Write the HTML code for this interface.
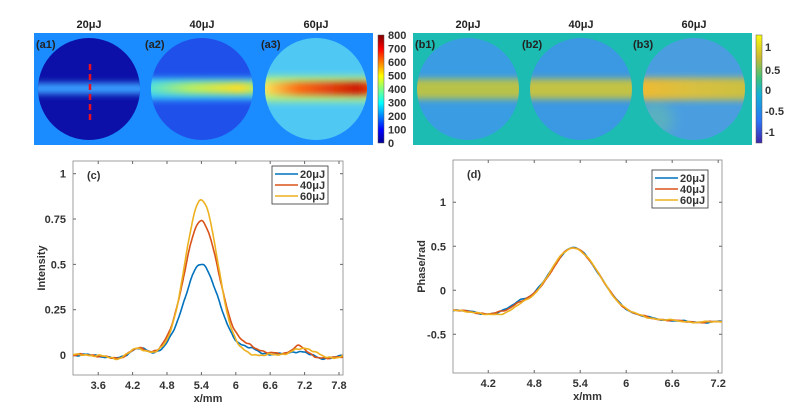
<!DOCTYPE html>
<html><head><meta charset="utf-8"><style>
html,body{margin:0;padding:0;background:#fff;}
svg{display:block;font-family:"Liberation Sans",sans-serif;}
.t{font-size:11px;font-weight:bold;fill:#222;}
.k{font-size:11px;font-weight:bold;fill:#333;}
</style></head><body>
<svg id="s" width="789" height="416" viewBox="0 0 789 416" xmlns="http://www.w3.org/2000/svg">
<defs>
<filter id="bl" x="-50%" y="-300%" width="200%" height="700%"><feGaussianBlur stdDeviation="3.5"/></filter>
<filter id="bl2" x="-50%" y="-50%" width="200%" height="200%"><feGaussianBlur stdDeviation="6"/></filter>
<clipPath id="c1"><circle cx="89" cy="89" r="51"/></clipPath>
<clipPath id="c2"><circle cx="202" cy="89" r="51"/></clipPath>
<clipPath id="c3"><circle cx="316" cy="89" r="51"/></clipPath>
<clipPath id="d1"><circle cx="468" cy="89" r="51"/></clipPath>
<clipPath id="d2"><circle cx="581" cy="89" r="51"/></clipPath>
<clipPath id="d3"><circle cx="694" cy="89" r="51"/></clipPath>
<linearGradient id="jet" x1="0" y1="1" x2="0" y2="0">
<stop offset="0" stop-color="#00008f"/><stop offset="0.12" stop-color="#0000ff"/><stop offset="0.37" stop-color="#00ffff"/><stop offset="0.5" stop-color="#80ff80"/><stop offset="0.62" stop-color="#ffff00"/><stop offset="0.87" stop-color="#ff0000"/><stop offset="1" stop-color="#800000"/></linearGradient>
<linearGradient id="par" x1="0" y1="1" x2="0" y2="0">
<stop offset="0" stop-color="#3e26a8"/><stop offset="0.2" stop-color="#2c72f5"/><stop offset="0.45" stop-color="#13b0d6"/><stop offset="0.6" stop-color="#3fc27c"/><stop offset="0.8" stop-color="#d0ba30"/><stop offset="1" stop-color="#f9fb0e"/></linearGradient>
<linearGradient id="r3" x1="0" x2="1"><stop offset="0" stop-color="#f8f060"/><stop offset="0.3" stop-color="#ff6a10"/><stop offset="0.8" stop-color="#d01000"/><stop offset="1" stop-color="#ff6a10"/></linearGradient>
<linearGradient id="r2" x1="0" x2="1"><stop offset="0" stop-color="#40e0f0"/><stop offset="0.4" stop-color="#b8f060"/><stop offset="0.8" stop-color="#ffe020"/><stop offset="1" stop-color="#90f080"/></linearGradient>
<linearGradient id="y3" x1="0" x2="1"><stop offset="0" stop-color="#f2b830"/><stop offset="0.5" stop-color="#d8c040"/><stop offset="1" stop-color="#c6c040"/></linearGradient>
</defs>
<rect x="34" y="33" width="339" height="112" fill="#1a8cff"/>
<g clip-path="url(#c1)"><rect x="30" y="30" width="120" height="120" fill="#0c10a8"/><rect x="20" y="83" width="140" height="11" fill="#3aa0ff" filter="url(#bl)"/></g>
<g clip-path="url(#c2)"><rect x="140" y="30" width="120" height="120" fill="#2050ea"/><rect x="130" y="78" width="140" height="22" fill="#30c0ff" filter="url(#bl)"/><rect x="140" y="82" width="125" height="12" fill="url(#r2)" filter="url(#bl)"/></g>
<g clip-path="url(#c3)"><rect x="255" y="30" width="120" height="120" fill="#50c8f4"/><rect x="245" y="76" width="140" height="26" fill="#a8f08a" filter="url(#bl)"/><rect x="262" y="82" width="120" height="13" fill="url(#r3)" filter="url(#bl)"/></g>
<line x1="90" y1="64" x2="90" y2="120" stroke="#e81020" stroke-width="2.5" stroke-dasharray="6,4"/>
<rect x="378" y="35" width="6" height="108" fill="url(#jet)" stroke="#555" stroke-width="0.5"/>
<rect x="413" y="33" width="339" height="112" fill="#1cbcb2"/>
<g clip-path="url(#d1)"><rect x="410" y="30" width="120" height="120" fill="#3a9ce2"/><rect x="400" y="79" width="140" height="20" fill="#b8c248" filter="url(#bl)"/></g>
<g clip-path="url(#d2)"><rect x="520" y="30" width="120" height="120" fill="#3b98e2"/><rect x="510" y="79" width="140" height="20" fill="#c2c244" filter="url(#bl)"/></g>
<g clip-path="url(#d3)"><rect x="640" y="30" width="120" height="120" fill="#4a9ee0"/><circle cx="655" cy="120" r="18" fill="#5ab0c0" filter="url(#bl2)"/><rect x="625" y="78" width="140" height="22" fill="url(#y3)" filter="url(#bl)"/></g>
<rect x="756" y="35" width="6" height="108" fill="url(#par)" stroke="#555" stroke-width="0.5"/>
</svg>
<script>
var NS="http://www.w3.org/2000/svg",s=document.getElementById('s');
function el(t,a,txt,p){var e=document.createElementNS(NS,t);for(var k in a)e.setAttribute(k,a[k]);if(txt!=null)e.textContent=txt;(p||s).appendChild(e);return e;}
function tx(x,y,t,anc,cls,extra){var a={x:x,y:y,'text-anchor':anc||'middle','class':cls||'k'};for(var k in extra||{})a[k]=extra[k];return el('text',a,t);}
[[89,'20μJ'],[202,'40μJ'],[316,'60μJ'],[468,'20μJ'],[581,'40μJ'],[694,'60μJ']].forEach(function(q){tx(q[0],28,q[1],'middle','t');});
[[36,'(a1)'],[145,'(a2)'],[261,'(a3)'],[415,'(b1)'],[522,'(b2)'],[633,'(b3)']].forEach(function(q){tx(q[0],48,q[1],'start','t',{'font-size':'10'});});
for(var i=0;i<=8;i++){tx(388,143-i*13.5+4,String(i*100),'start','k',{'font-size':'10.5','font-weight':'normal','fill':'#222'});}
[[47,'1'],[70,'0.5'],[90,'0'],[111,'-0.5'],[132,'-1']].forEach(function(q){tx(765,q[0]+4,q[1],'start','k',{'font-size':'10.5','font-weight':'normal','fill':'#222'});});
function noise(x,seed){return Math.sin(x*13.1+seed)*0.5+Math.sin(x*29.7+seed*2.3)*0.3+Math.sin(x*53+seed*1.7)*0.2;}
function plot(o){
 var L=o.L,R=o.R,T=o.T,B=o.B;
 var X=function(x){return L+(x-o.x0)/(o.x1-o.x0)*(R-L);},Y=function(v){return B-(v-o.y0)/(o.y1-o.y0)*(B-T);};
 el('rect',{x:L,y:T,width:R-L,height:B-T,fill:'none',stroke:'#888','stroke-width':0.8});
 o.xt.forEach(function(x){var px=X(x);el('line',{x1:px,y1:B,x2:px,y2:B-3,stroke:'#666'});el('line',{x1:px,y1:T,x2:px,y2:T+3,stroke:'#666'});tx(px,B+14,String(x),'middle','k');});
 o.yt.forEach(function(v){var py=Y(v);el('line',{x1:L,y1:py,x2:L+3,y2:py,stroke:'#666'});el('line',{x1:R,y1:py,x2:R-3,y2:py,stroke:'#666'});tx(L-7,py+4,String(v),'end','k');});
 tx((L+R)/2,B+27,'x/mm','middle','k',{'font-size':'12'});
 tx(0,0,o.yl,'middle','k',{'font-size':'12',transform:'translate('+(o.ylx)+','+((T+B)/2)+') rotate(-90)'});
 tx(L+14,T+18,o.lab,'start','k',{'font-size':'10'});
 o.series.forEach(function(sr){var d='';for(var x=o.x0;x<=o.x1+1e-9;x+=0.01){var v=sr.f(x);d+=(d?'L':'M')+X(x).toFixed(1)+','+Y(v).toFixed(1);}el('path',{d:d,fill:'none',stroke:sr.c,'stroke-width':1.6});});
 var lx=o.lg[0],ly=o.lg[1];el('rect',{x:lx,y:ly,width:56,height:38,fill:'#fff',stroke:'#333','stroke-width':0.8});
 o.series.forEach(function(sr,i){var yy=ly+8+i*11;el('line',{x1:lx+3,y1:yy,x2:lx+26,y2:yy,stroke:sr.c,'stroke-width':1.6});tx(lx+28,yy+4,sr.n,'start','k',{'font-size':'10.5'});});
}
var C=['#0072bd','#d95319','#edb120'];
function g(x,m,s){return Math.exp(-(x-m)*(x-m)/(2*s*s));}
function base(x,seed){return 0.035*g(x,4.3,0.15)+0.02*g(x,7.05,0.15)-0.02*g(x,3.9,0.15)-0.02*g(x,7.6,0.15)+0.008*noise(x,seed);}
plot({L:73,R:343,T:161,B:375,x0:3.16,x1:7.87,y0:-0.11,y1:1.07,xt:[3.6,4.2,4.8,5.4,6,6.6,7.2,7.8],yt:[0,0.25,0.5,0.75,1],yl:'Intensity',ylx:45,lab:'(c)',lg:[272,166],
 series:[{c:C[0],n:'20μJ',f:function(x){return 0.5*g(x,5.4,0.3)+base(x,1)+0.03*g(x,6.2,0.2);}},
 {c:C[1],n:'40μJ',f:function(x){return 0.74*g(x,5.4,0.3)+base(x,2)+0.04*g(x,6.2,0.25)+0.03*g(x,7.1,0.1);}},
 {c:C[2],n:'60μJ',f:function(x){return 0.86*g(x,5.4,0.28)+base(x,3)+0.03*g(x,7.3,0.15);}}]});
function pb(x,seed){return -0.23+0.75*g(x,5.32,0.33)-0.025*(x-3.7)+0.05*g(x,4.6,0.1)-0.03*g(x,4.2,0.12)+0.012*noise(x,seed)-0.05*g(x,6.9,0.5);}
plot({L:453,R:722,T:160,B:373,x0:3.74,x1:7.25,y0:-0.94,y1:1.48,xt:[4.2,4.8,5.4,6,6.6,7.2],yt:[1,0.5,0,-0.5],yl:'Phase/rad',ylx:425,lab:'(d)',lg:[652,170],
 series:[{c:C[0],n:'20μJ',f:function(x){return pb(x,1)+0.02*g(x,4.6,0.1);}},{c:C[1],n:'40μJ',f:function(x){return pb(x,2)-0.02*g(x,5,0.1);}},{c:C[2],n:'60μJ',f:function(x){return pb(x,3)-0.03*g(x,4.5,0.2);}}]});
</script>
</body></html>
